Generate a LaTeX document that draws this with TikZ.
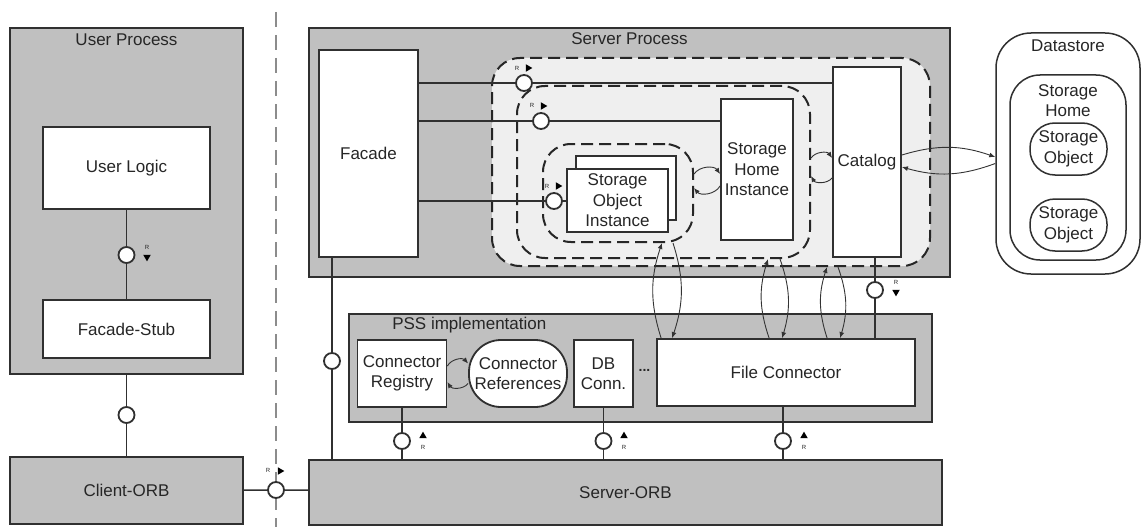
\documentclass[tikz,border=0pt]{standalone}
\usepackage{fontspec}
\setmainfont{Liberation Sans}
\usetikzlibrary{arrows.meta,positioning,shapes.geometric}

\definecolor{procgray}{HTML}{C0C0C0}
\definecolor{regiongray}{HTML}{EFEFEF}
\definecolor{linegray}{HTML}{303030}

\begin{document}
\begin{tikzpicture}[x=1pt, y=-1pt,
    every node/.style={font=\fontsize{17}{20.5}\selectfont, text=black!85},
    box/.style={draw=linegray, line width=1.8pt, fill=white, align=center, inner sep=0pt},
    procbox/.style={box, fill=procgray},
    region/.style={draw=black!85, line width=2pt, dash pattern=on 12pt off 6pt, rounded corners=28pt, inner sep=0pt},
    iface/.style={circle, draw=linegray, fill=white, line width=1.8pt, minimum size=16pt, inner sep=0pt},
    link/.style={draw=linegray, line width=1.5pt},
    flow/.style={draw=black!80, line width=0.9pt, -{Latex[length=6pt,width=5pt]}},
    rtxt/.style={font=\fontsize{6}{6}\selectfont, inner sep=0pt},
    rtri/.style={isosceles triangle, isosceles triangle apex angle=60, fill=black, inner sep=0pt, minimum height=6.5pt, minimum width=6.5pt},
    title/.style={inner sep=0pt}]
\useasboundingbox (0,0) rectangle (1141,527);

% client side
\draw[draw=black!45, line width=2pt, dash pattern=on 15pt off 8pt] (276,12) -- (276,527);
\node[procbox, minimum width=233pt, minimum height=346pt] (userproc) at (126.5,201) {};
\node[title, below=7pt of userproc.north] (usertitle) {User Process};
\node[box, minimum width=167pt, minimum height=82pt] (userlogic) at (126.5,168) {User Logic};
\node[box, minimum width=167pt, minimum height=58pt] (facstub) at (126.5,329) {Facade-Stub};
\node[procbox, minimum width=233pt, minimum height=67pt] (clientorb) at (126.5,490.5) {Client-ORB};

% server process
\node[procbox, minimum width=641pt, minimum height=249pt] (serverproc) at (629.5,152.5) {};
\node[title, below=5pt of serverproc.north] (servertitle) {Server Process};
\node[region, fill=regiongray, minimum width=438pt, minimum height=208pt] (outerreg) at (711,162) {};
\node[region, minimum width=293pt, minimum height=172pt] (midreg) at (663.5,172) {};
\node[region, minimum width=150pt, minimum height=98pt] (innerreg) at (618,193) {};
\node[box, minimum width=99pt, minimum height=207pt] (facade) at (368.5,153.5) {Facade};
\node[box, minimum width=100pt, minimum height=64pt] (soiback) at (626,188) {};
\node[box, minimum width=101pt, minimum height=63pt] (soifront) at (617.5,200.5) {Storage\\Object\\Instance};
\node[box, minimum width=72pt, minimum height=141pt] (shi) at (757,169.5) {Storage\\Home\\Instance};
\node[box, minimum width=68pt, minimum height=190pt] (catalog) at (867,162) {Catalog};

% datastore
\node[box, rounded corners=35pt, line width=1.5pt, minimum width=144pt, minimum height=241pt] (datastore) at (1068,153.5) {};
\node[title, below=7pt of datastore.north] (datatitle) {Datastore};
\node[box, rounded corners=30pt, line width=1.5pt, minimum width=116pt, minimum height=185pt] (shome) at (1068,167.5) {};
\node[title, align=center, below=10pt of shome.north] (shometitle) {Storage\\Home};
\node[box, rounded corners=25pt, line width=1.5pt, minimum width=77pt, minimum height=52pt] (sobj1) at (1068.5,149) {Storage\\Object};
\node[box, rounded corners=25pt, line width=1.5pt, minimum width=77pt, minimum height=52pt] (sobj2) at (1068.5,225) {Storage\\Object};

% PSS implementation
\node[procbox, minimum width=583pt, minimum height=108pt] (pss) at (640.5,368) {};
\node[title, anchor=north west, below right=4pt and 44pt of pss.north west] (psstitle) {PSS implementation};
\node[box, minimum width=89pt, minimum height=67pt] (connreg) at (402,373.5) {Connector\\Registry};
\node[box, rounded corners=32pt, minimum width=98pt, minimum height=67pt] (connref) at (518,373.5) {Connector\\References};
\node[box, minimum width=59pt, minimum height=67pt] (dbconn) at (603.5,373.5) {DB\\Conn.};
\node[title, font=\bfseries\fontsize{14}{14}\selectfont] (dots) at (644.5,370) {...};
\node[box, minimum width=258pt, minimum height=67pt] (fileconn) at (786,372.5) {File Connector};

\node[procbox, minimum width=633pt, minimum height=65pt] (serverorb) at (625.5,492.5) {Server-ORB};

% interfaces
\node[iface] (ci1) at (126.5,255) {};
\node[iface] (ci2) at (126.5,415) {};
\node[iface] (ci3) at (276,490) {};
\node[iface] (ci4) at (524,83) {};
\node[iface] (ci5) at (541,121) {};
\node[iface] (ci6) at (554,201) {};
\node[iface] (ci7) at (875,290) {};
\node[iface] (ci8) at (332,361) {};
\node[iface] (ci9) at (402,441) {};
\node[iface] (ci10) at (603.5,441) {};
\node[iface] (ci11) at (783,441) {};

\draw[link] (userlogic) -- (ci1) -- (facstub);
\draw[link] (userproc) -- (ci2) -- (clientorb);
\draw[link] (clientorb) -- (ci3) -- (ci3 -| serverorb.west);
\draw[link] (facade.east |- ci4) -- (ci4) -- (ci4 -| catalog.west);
\draw[link] (facade.east |- ci5) -- (ci5) -- (ci5 -| shi.west);
\draw[link] (facade.east |- ci6) -- (ci6) -- (ci6 -| soifront.west);
\draw[link] (ci7 |- catalog.south) -- (ci7) -- (ci7 |- fileconn.north);
\draw[link] (ci8 |- facade.south) -- (ci8) -- (ci8 |- serverorb.north);
\draw[link] (connreg) -- (ci9) -- (ci9 |- serverorb.north);
\draw[link] (dbconn) -- (ci10) -- (ci10 |- serverorb.north);
\draw[link] (ci11 |- fileconn.south) -- (ci11) -- (ci11 |- serverorb.north);

% R marks
\node[rtxt] (r1) at (147,247) {R};
\node[rtri, shape border rotate=270] (r1t) at (147,257) {};
\node[rtxt] (r2) at (268,470) {R};
\node[rtri] (r2t) at (280,471) {};
\node[rtxt] (r3) at (517,68) {R};
\node[rtri] (r3t) at (528,68) {};
\node[rtxt] (r4) at (532,105) {R};
\node[rtri] (r4t) at (543,106) {};
\node[rtxt] (r5) at (547,186) {R};
\node[rtri] (r5t) at (558,186) {};
\node[rtxt] (r6) at (896,282) {R};
\node[rtri, shape border rotate=270] (r6t) at (896,292) {};
\node[rtri, shape border rotate=90] (r7t) at (423,436) {};
\node[rtxt] (r7) at (423,447) {R};
\node[rtri, shape border rotate=90] (r8t) at (624,436) {};
\node[rtxt] (r8) at (624,447) {R};
\node[rtri, shape border rotate=90] (r9t) at (804,436) {};
\node[rtxt] (r9) at (804,447) {R};

% calls
\draw[flow] ([yshift=19pt]innerreg.east) to[bend left=55] ([yshift=-4.5pt]shi.west);
\draw[flow] ([yshift=-16.5pt]shi.west) to[bend left=55] ([yshift=5pt]innerreg.east);
\draw[flow] ([yshift=14pt]midreg.east) to[bend left=55] ([yshift=4pt]catalog.west);
\draw[flow] ([yshift=-16pt]catalog.west) to[bend left=55] ([yshift=-4pt]midreg.east);
\draw[flow] ([yshift=7.5pt]connreg.east) to[bend left=55] ([yshift=10pt]connref.west);
\draw[flow] ([yshift=-10pt]connref.west) to[bend left=55] ([yshift=-8.5pt]connreg.east);
\draw[flow] ([yshift=7pt]catalog.east) to[bend left=18] ([yshift=-3.5pt]datastore.west);
\draw[flow] ([yshift=-10pt]datastore.west) to[bend left=18] ([yshift=-5pt]catalog.east);
\draw[flow] ([xshift=5pt]fileconn.north west) to[bend left=18] ([xshift=44pt]innerreg.south);
\draw[flow] ([xshift=55pt]innerreg.south) to[bend left=18] ([xshift=16pt]fileconn.north west);
\draw[flow] ([xshift=113pt]fileconn.north west) to[bend left=18] ([xshift=104.5pt]midreg.south);
\draw[flow] ([xshift=116.5pt]midreg.south) to[bend left=18] ([xshift=126pt]fileconn.north west);
\draw[flow] ([xshift=171pt]fileconn.north west) to[bend left=18] ([xshift=116pt]outerreg.south);
\draw[flow] ([xshift=127pt]outerreg.south) to[bend left=18] ([xshift=184pt]fileconn.north west);
\end{tikzpicture}
\end{document}
